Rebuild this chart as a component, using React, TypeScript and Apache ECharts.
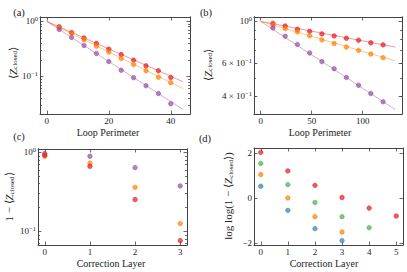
import React, { useEffect, useRef } from "react";
import * as echarts from "echarts";

// ---------- data ----------
const perimA = [4, 8, 12, 16, 20, 24, 28, 32, 36, 40];
const zA_red = [0.8, 0.63, 0.5, 0.4, 0.314, 0.25, 0.198, 0.156, 0.127, 0.096];
const zA_orange = [0.77, 0.605, 0.465, 0.355, 0.277, 0.212, 0.165, 0.127, 0.097, 0.077];
const zA_purple = [0.715, 0.51, 0.366, 0.262, 0.187, 0.13, 0.095, 0.068, 0.049, 0.032];
const fitA_x = [0, 44];
const fitA_red = [1, 0.08];
const fitA_orange = [1, 0.06];
const fitA_purple = [1, 0.025];

const perimB = [12, 24, 36, 48, 60, 72, 84, 96, 108, 120];
const zB_red = [0.976, 0.945, 0.908, 0.886, 0.858, 0.837, 0.814, 0.794, 0.769, 0.75];
const zB_orange = [0.953, 0.915, 0.879, 0.838, 0.797, 0.763, 0.73, 0.701, 0.67, 0.641];
const zB_purple = [0.923, 0.834, 0.754, 0.679, 0.611, 0.559, 0.503, 0.457, 0.413, 0.373];
const fitB_x = [0, 132];
const fitB_red = [1, 0.73];
const fitB_orange = [1, 0.616];
const fitB_purple = [1, 0.339];

const layersC = [0, 1, 2, 3];
const errC_purple = [0.97, 0.89, 0.64, 0.375];
const errC_orange = [0.89, 0.73, 0.36, 0.125];
const errC_red = [0.92, 0.665, 0.252, 0.076];

const layersD = [0, 1, 2, 3, 4, 5];
const llD_red = [2.03, 1.21, 0.57, 0.03, -0.44, -0.79];
const llD_green = [1.54, 0.6, -0.19, -0.82, -1.31];
const llD_orange = [1.05, 0.01, -0.82, -1.5];
const llD_blue = [0.53, -0.54, -1.35, -1.88];

const xTicksA = [0, 20, 40];
const xTicksB = [0, 50, 100];
const xTicksC = [0, 1, 2, 3];
const xTicksD = [0, 1, 2, 3, 4, 5];
const yTicksD = [-2, 0, 2];
const yLabelsA = [1, 0.1];
const yLabelsB = [1, 0.6, 0.4];
const yLabelsC = [1, 0.1];

// ---------- style ----------
const FONT = "Liberation Serif";
const RED = "#e41a1c";
const ORANGE = "#ff7f00";
const PURPLE = "#984ea3";
const GREEN = "#4daf4a";
const BLUE = "#377eb8";
const FRAME = "#444";
const TXT = "#222";

const L = (v: number) => Math.log10(v);
const range = (lo: number, hi: number) => {
  const m = (hi - lo) * 0.05;
  return [lo - m, hi + m];
};
const minorLog = (lo: number, hi: number) => {
  const out: number[] = [];
  for (let e = -3; e <= 1; e++) {
    for (let k = 2; k <= 9; k++) {
      const v = Math.log10(k * Math.pow(10, e));
      if (v >= lo && v <= hi) out.push(v);
    }
  }
  return out;
};

const richBase = {
  b: { fontFamily: FONT, fontSize: 9, color: TXT, fontWeight: "normal" },
  s: { fontFamily: FONT, fontSize: 6.5, color: TXT, fontWeight: "normal", padding: [0, 0, 6, 0] },
};

const fmtLog = (v: number) => {
  const val = Math.pow(10, v);
  const exp = Math.floor(v + 1e-9);
  const mant = Math.round(val / Math.pow(10, exp));
  const e = exp < 0 ? "\u2212" + Math.abs(exp) : String(exp);
  if (mant === 1) return `{b|10}{s|${e}}`;
  return `{b|${mant} \u00d7 10}{s|${e}}`;
};

const nameRich = {
  m: { fontFamily: FONT, fontSize: 11, color: TXT, fontWeight: "normal" },
  i: { fontFamily: FONT, fontSize: 11, fontStyle: "italic", color: TXT, fontWeight: "normal" },
  sub: { fontFamily: FONT, fontSize: 7, color: TXT, fontWeight: "normal", padding: [5, 0, 0, 0] },
};
const zName = "{m|\u27e8}{i|Z}{sub|closed}{m|\u27e9}";

const xAxes: any[] = [];
const yAxes: any[] = [];
const series: any[] = [];

function panel(
  grid: number,
  xr: number[],
  yr: number[],
  xTicks: number[],
  yMajor: number[],
  yMinor: number[],
  yFmt: ((v: number) => string) | null
) {
  const xi = xAxes.length;
  const yi = yAxes.length;
  const tick = (vals: number[], len: number) => ({
    show: true,
    inside: true,
    length: len,
    customValues: vals,
    lineStyle: { color: FRAME, width: 0.8 },
  });
  const line = { show: true, onZero: false, lineStyle: { color: FRAME, width: 1 } };
  xAxes.push({
    type: "value",
    gridIndex: grid,
    position: "bottom",
    min: xr[0],
    max: xr[1],
    axisLine: line,
    axisTick: tick(xTicks, 3.5),
    axisLabel: {
      customValues: xTicks,
      margin: 2,
      fontFamily: FONT,
      fontSize: 9,
      fontWeight: "normal",
      color: TXT,
    },
    splitLine: { show: false },
  });
  xAxes.push({
    type: "value",
    gridIndex: grid,
    position: "top",
    min: xr[0],
    max: xr[1],
    axisLine: line,
    axisTick: tick(xTicks, 3.5),
    axisLabel: { show: false },
    splitLine: { show: false },
  });
  const yBase = (pos: string) => ({
    type: "value",
    gridIndex: grid,
    position: pos,
    min: yr[0],
    max: yr[1],
    axisLine: line,
    splitLine: { show: false },
  });
  yAxes.push({
    ...yBase("left"),
    axisTick: tick(yMajor, 3.5),
    axisLabel: {
      customValues: yMajor,
      margin: 2,
      formatter: yFmt ? (v: number) => yFmt(v) : (v: number) => `{b|${v < 0 ? "\u2212" + Math.abs(v) : String(v)}}`,
      rich: richBase,
      fontFamily: FONT,
      fontSize: 9,
      color: TXT,
    },
  });
  yAxes.push({ ...yBase("right"), axisTick: tick(yMajor, 3.5), axisLabel: { show: false } });
  if (yMinor.length) {
    yAxes.push({ ...yBase("left"), axisTick: tick(yMinor, 2), axisLabel: { show: false } });
    yAxes.push({ ...yBase("right"), axisTick: tick(yMinor, 2), axisLabel: { show: false } });
  }
  return { xi, yi };
}

function scatter(ax: { xi: number; yi: number }, xs: number[], ys: number[], color: string, log: boolean) {
  series.push({
    type: "scatter",
    xAxisIndex: ax.xi,
    yAxisIndex: ax.yi,
    data: ys.map((v, i) => [xs[i], log ? L(v) : v]),
    symbol: "circle",
    symbolSize: 4.5,
    itemStyle: { color: color, opacity: 0.7, borderColor: color, borderWidth: 0.8 },
    z: 3,
  });
}
function fit(ax: { xi: number; yi: number }, xs: number[], ys: number[], color: string) {
  series.push({
    type: "line",
    xAxisIndex: ax.xi,
    yAxisIndex: ax.yi,
    data: ys.map((v, i) => [xs[i], L(v)]),
    showSymbol: false,
    lineStyle: { color: color, width: 1, opacity: 0.45 },
    z: 2,
  });
}

// panel (a)
const yrA = range(L(Math.min(...fitA_purple)), 0);
const axA = panel(0, range(fitA_x[0], fitA_x[1]), yrA, xTicksA,
  yLabelsA.map(L), minorLog(yrA[0], yrA[1]), fmtLog);
fit(axA, fitA_x, fitA_red, RED);
fit(axA, fitA_x, fitA_orange, ORANGE);
fit(axA, fitA_x, fitA_purple, PURPLE);
scatter(axA, perimA, zA_red, RED, true);
scatter(axA, perimA, zA_orange, ORANGE, true);
scatter(axA, perimA, zA_purple, PURPLE, true);

// panel (b)
const yrB = range(L(Math.min(...fitB_purple)), 0);
const axB = panel(1, range(fitB_x[0], fitB_x[1]), yrB, xTicksB,
  yLabelsB.map(L), minorLog(yrB[0], yrB[1]), fmtLog);
fit(axB, fitB_x, fitB_red, RED);
fit(axB, fitB_x, fitB_orange, ORANGE);
fit(axB, fitB_x, fitB_purple, PURPLE);
scatter(axB, perimB, zB_red, RED, true);
scatter(axB, perimB, zB_orange, ORANGE, true);
scatter(axB, perimB, zB_purple, PURPLE, true);

// panel (c)
const allC = [...errC_purple, ...errC_orange, ...errC_red].map(L);
const yrC = range(Math.min(...allC), Math.max(...allC));
const axC = panel(2, range(0, 3), yrC, xTicksC,
  yLabelsC.map(L), minorLog(yrC[0], yrC[1]), fmtLog);
scatter(axC, layersC, errC_purple, PURPLE, true);
scatter(axC, layersC, errC_orange, ORANGE, true);
scatter(axC, layersC, errC_red, RED, true);

// panel (d)
const allD = [...llD_red, ...llD_green, ...llD_orange, ...llD_blue];
const yrD = range(Math.min(...allD), Math.max(...allD));
const axD = panel(3, range(0, 5), yrD, xTicksD, yTicksD, [], null);
scatter(axD, layersD, llD_red, RED, false);
scatter(axD, layersD, llD_green, GREEN, false);
scatter(axD, layersD, llD_orange, ORANGE, false);
scatter(axD, layersD, llD_blue, BLUE, false);

const label = (t: string, x: number, y: number, size = 10.5) => ({
  type: "text",
  x,
  y,
  style: {
    text: t,
    fontFamily: FONT,
    fontSize: size,
    fontWeight: "normal",
    fill: TXT,
    align: "center",
    verticalAlign: "middle",
  },
});
const yTitle = (t: string, x: number, y: number) => ({
  type: "text",
  x,
  y,
  rotation: Math.PI / 2,
  style: {
    text: t,
    rich: nameRich,
    fontFamily: FONT,
    fontSize: 11,
    fill: TXT,
    align: "center",
    verticalAlign: "middle",
  },
});

export default function App() {
  const ref = useRef<HTMLDivElement>(null);
  useEffect(() => {
    if (!ref.current) return;
    const chart = echarts.init(ref.current, null, { renderer: "svg" });
    chart.setOption({
      animation: false,
      backgroundColor: "#fff",
      textStyle: { fontFamily: FONT },
      grid: [
        { left: 40, top: 17, width: 150, height: 97 },
        { left: 254, top: 17, width: 148, height: 97 },
        { left: 38, top: 149, width: 149, height: 96 },
        { left: 254, top: 148, width: 149, height: 97 },
      ],
      xAxis: xAxes,
      yAxis: yAxes,
      series,
      graphic: [
        label("(a)", 19, 12),
        label("(b)", 206, 12),
        label("(c)", 19, 136),
        label("(d)", 205, 138),
        label("Loop Perimeter", 108, 132.5, 10),
        label("Loop Perimeter", 320, 132.5, 10),
        label("Correction Layer", 111, 263, 10),
        label("Correction Layer", 324, 263, 10),
        yTitle(zName, 12.5, 63),
        yTitle(zName, 207.5, 65),
        yTitle("{m|1 \u2212 }" + zName, 9, 197),
        yTitle("{m|log log(1 \u2212 }" + zName + "{m|)}", 228, 196),
      ],
    });
    return () => chart.dispose();
  }, []);
  return (
    <div
      ref={ref}
      style={{ position: "fixed", left: 0, top: 0, width: 407, height: 272, background: "#fff" }}
    />
  );
}
